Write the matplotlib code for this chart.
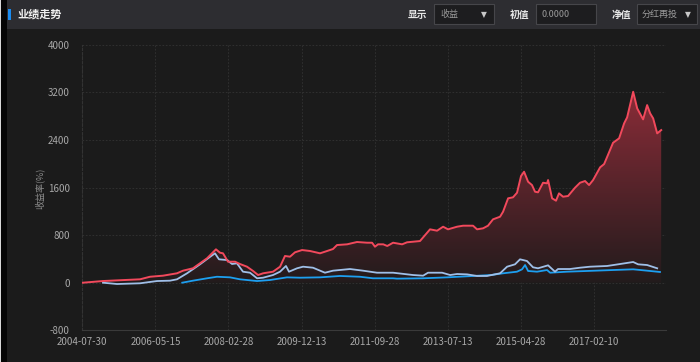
import numpy as np
import pandas as pd
import matplotlib
matplotlib.use("Agg")
import matplotlib.pyplot as plt
import matplotlib.dates as mdates
from matplotlib.patches import Rectangle
from matplotlib.colors import to_rgb

plt.rcParams['font.family'] = ['Noto Sans CJK SC', 'DejaVu Sans']

# fund return (%), dividends reinvested
fund_dates = ['2004-08-04', '2005-01-30', '2005-12-28', '2006-03-27', '2006-07-22', '2006-11-24',
              '2007-01-17', '2007-04-16', '2007-08-20', '2007-11-08', '2007-12-14', '2008-01-10',
              '2008-02-24', '2008-04-27', '2008-06-10', '2008-08-12', '2008-10-05', '2008-11-19',
              '2009-01-03', '2009-04-02', '2009-06-04', '2009-07-18', '2009-09-01', '2009-10-16',
              '2009-12-18', '2010-02-27', '2010-05-28', '2010-07-11', '2010-09-21', '2010-10-27',
              '2011-01-25', '2011-04-24', '2011-07-23', '2011-09-06', '2011-10-02', '2011-10-29',
              '2011-12-15', '2012-01-20', '2012-03-12', '2012-06-01', '2012-07-15', '2012-11-08',
              '2013-02-06', '2013-04-10', '2013-06-03', '2013-07-17', '2013-10-06', '2013-11-29',
              '2014-02-26', '2014-04-03', '2014-05-27', '2014-07-10', '2014-08-24', '2014-10-26',
              '2014-11-22', '2015-01-06', '2015-02-19', '2015-03-27', '2015-05-02', '2015-05-29',
              '2015-07-04', '2015-08-08', '2015-09-04', '2015-10-01', '2015-11-15', '2015-12-21',
              '2015-12-30', '2016-02-04', '2016-03-10', '2016-04-06', '2016-05-12', '2016-06-26',
              '2016-08-27', '2016-10-11', '2016-11-25', '2016-12-31', '2017-02-05', '2017-04-09',
              '2017-05-15', '2017-08-03', '2017-09-26', '2017-11-10', '2017-12-07', '2018-01-30',
              '2018-03-07', '2018-04-29', '2018-06-04', '2018-07-01', '2018-07-28', '2018-09-02',
              '2018-10-08']
fund_ret = [0, 28, 57, 100, 118, 158,
            202, 242, 410, 561, 504, 494,
            353, 353, 314, 269, 197, 129,
            158, 185, 269, 449, 437, 511,
            549, 533, 494, 521, 566, 633,
            645, 684, 672, 672, 605, 645,
            645, 617, 672, 645, 679, 700,
            897, 874, 941, 897, 941, 958,
            958, 897, 914, 958, 1065, 1109,
            1193, 1418, 1435, 1512, 1793, 1865,
            1697, 1641, 1529, 1519, 1680, 1670,
            1725, 1418, 1378, 1502, 1445, 1457,
            1596, 1680, 1709, 1641, 1725, 1939,
            1994, 2352, 2426, 2678, 2779, 3209,
            2930, 2745, 2985, 2846, 2762, 2510,
            2565]

# comparison index 1
idx1_dates = ['2005-01-30', '2005-06-05', '2005-12-28', '2006-05-29', '2006-09-22', '2006-11-24',
              '2007-02-22', '2007-06-18', '2007-08-29', '2007-10-30', '2007-12-05', '2008-02-15',
              '2008-03-31', '2008-05-14', '2008-07-07', '2008-09-08', '2008-11-10', '2009-01-03',
              '2009-04-02', '2009-06-04', '2009-07-27', '2009-08-23', '2009-11-03', '2009-12-27',
              '2010-03-26', '2010-07-11', '2010-09-21', '2011-02-20', '2011-06-17', '2011-10-20',
              '2012-03-12', '2012-09-07', '2012-12-06', '2013-01-19', '2013-05-25', '2013-08-05',
              '2013-10-06', '2014-01-04', '2014-04-03', '2014-07-01', '2014-10-26', '2014-12-28',
              '2015-03-09', '2015-04-23', '2015-06-24', '2015-08-17', '2015-10-01', '2015-12-30',
              '2016-03-01', '2016-03-28', '2016-07-13', '2016-10-11', '2017-01-09', '2017-06-10',
              '2017-10-05', '2018-01-30', '2018-03-15', '2018-06-04', '2018-09-02']
idx1_ret = [0, -22, -10, 28, 34, 57,
            158, 309, 410, 494, 393, 381,
            314, 326, 185, 168, 74, 84,
            129, 185, 281, 185, 242, 269,
            252, 168, 202, 230, 202, 168,
            168, 129, 118, 168, 168, 129,
            146, 140, 113, 113, 158, 269,
            309, 393, 365, 259, 242, 292,
            185, 230, 230, 252, 269, 281,
            314, 348, 309, 297, 242]

# comparison index 2
idx2_dates = ['2007-01-10', '2007-04-16', '2007-08-20', '2007-11-17', '2008-03-13', '2008-06-10',
              '2008-11-10', '2009-03-06', '2009-08-05', '2009-11-29', '2010-05-28', '2010-11-23',
              '2011-05-21', '2011-09-14', '2012-03-12', '2012-04-16', '2012-12-06', '2013-07-09',
              '2014-02-26', '2014-08-06', '2014-11-22', '2015-03-27', '2015-05-11', '2015-06-07',
              '2015-07-04', '2015-09-22', '2015-12-21', '2016-01-17', '2016-06-17', '2016-12-13',
              '2017-08-03', '2018-01-30', '2018-06-04', '2018-09-27']
idx2_ret = [0, 34, 74, 100, 90, 57,
            28, 45, 90, 84, 90, 113,
            100, 74, 74, 68, 74, 90,
            113, 129, 158, 185, 225, 297,
            197, 185, 213, 168, 185, 197,
            213, 225, 202, 180]

tick_dates = ['2004-07-30', '2006-05-15', '2008-02-28', '2009-12-13', '2011-09-28',
              '2013-07-13', '2015-04-28', '2017-02-10']
y_ticks = [-800, 0, 800, 1600, 2400, 3200, 4000]

W, H = 700, 362
BG = '#1b1b1b'
HEAD = '#2d2d31'
RED = '#f2495c'
LIGHT = '#9fbfe8'
BLUE = '#1d9ff0'

fig = plt.figure(figsize=(7, 3.62), dpi=100, facecolor=BG)

def fx(px):
    return px / W

def fy(py):
    return 1 - py / H

# header bar and frame
fig.patches.append(Rectangle((0, fy(29)), 1, 29 / H, transform=fig.transFigure,
                             facecolor=HEAD, edgecolor='none', zorder=0))
fig.patches.append(Rectangle((0, 0), fx(7), 1, transform=fig.transFigure,
                             facecolor='#050505', edgecolor='none', zorder=1))
fig.patches.append(Rectangle((0, 0), fx(1.2), 1, transform=fig.transFigure,
                             facecolor='#d8d8d8', edgecolor='none', zorder=2))
fig.patches.append(Rectangle((fx(8), fy(20)), fx(2.5), 11 / H, transform=fig.transFigure,
                             facecolor='#1a8cf0', edgecolor='none', zorder=2))
fig.text(fx(17), fy(14.5), '业绩走势', color='#f0f0f0', fontsize=8, fontweight='bold',
         va='center', ha='left')

# header controls
for x0, x1 in [(434, 494), (536, 596), (637, 697)]:
    fig.patches.append(Rectangle((fx(x0), fy(24)), fx(x1 - x0), 20 / H, transform=fig.transFigure,
                                 facecolor='#1d1d1f', edgecolor='#46464a', linewidth=0.8, zorder=2))
for x, t in [(408, '显示'), (510, '初值'), (612, '净值')]:
    fig.text(fx(x), fy(14.5), t, color='#e8e8e8', fontsize=7, fontweight='bold', va='center')
fig.text(fx(440), fy(14.5), '收益', color='#9a9a9a', fontsize=6.5, va='center')
fig.text(fx(541), fy(14.5), '0.0000', color='#9a9a9a', fontsize=6.5, va='center')
fig.text(fx(642), fy(14.5), '分红再投', color='#9a9a9a', fontsize=6.5, va='center')
fig.text(fx(484), fy(14.5), '▼', color='#c8c8c8', fontsize=5.5, va='center', ha='center',
         family='DejaVu Sans')
fig.text(fx(688), fy(14.5), '▼', color='#c8c8c8', fontsize=5.5, va='center', ha='center',
         family='DejaVu Sans')

# main chart
ax = fig.add_axes([fx(82.4), fy(330.3), fx(666 - 82.4), (330.3 - 44.7) / H])
ax.set_facecolor(BG)

fd = pd.to_datetime(fund_dates)
d1 = pd.to_datetime(idx1_dates)
d2 = pd.to_datetime(idx2_dates)

fill = ax.fill_between(fd, fund_ret, 0, facecolor='none', edgecolor='none')
# vertical gradient under the fund curve
top = max(fund_ret)
c_top = np.array(to_rgb('#8a2c38'))
c_bot = np.array(to_rgb('#221b1c'))
grad = np.linspace(0, 1, 256)[:, None]
img = (c_bot + (c_top - c_bot) * grad)[:, None, :].reshape(256, 1, 3)
x0n, x1n = mdates.date2num(fd[0]), mdates.date2num(fd[-1])
im = ax.imshow(img, extent=[x0n, x1n, 0, top], origin='lower', aspect='auto', zorder=1)
im.set_clip_path(fill.get_paths()[0], transform=ax.transData)

ax.plot(d2, idx2_ret, color=BLUE, lw=1.3, zorder=3)
ax.plot(d1, idx1_ret, color=LIGHT, lw=1.3, zorder=3)
ax.plot(fd, fund_ret, color=RED, lw=1.4, zorder=4)

ax.set_xlim(pd.Timestamp('2004-07-30'), pd.Timestamp('2004-07-30') + pd.Timedelta(days=5226))
ax.set_ylim(-800, 4000)
ax.set_xticks(pd.to_datetime(tick_dates))
ax.set_xticklabels(tick_dates)
ax.set_yticks(y_ticks)
ax.set_yticklabels([str(v) for v in y_ticks])
ax.tick_params(colors='#a8a8a8', labelsize=7, length=0, pad=9)
ax.tick_params(axis='x', pad=5)

ax.grid(True, color='#333333', linestyle=(0, (2, 2)), linewidth=0.6)
ax.set_axisbelow(True)
for s in ['top', 'right']:
    ax.spines[s].set_visible(False)
ax.spines['bottom'].set_color('#3a3a3a')
ax.spines['left'].set_color('#333333')
ax.spines['left'].set_linestyle((0, (2, 2)))

fig.text(fx(40), fy(188), '收益率(%)', color='#8c8c8c', fontsize=6.5, rotation=90,
         va='center', ha='center')

fig.savefig('out.png', dpi=100, facecolor=BG)
